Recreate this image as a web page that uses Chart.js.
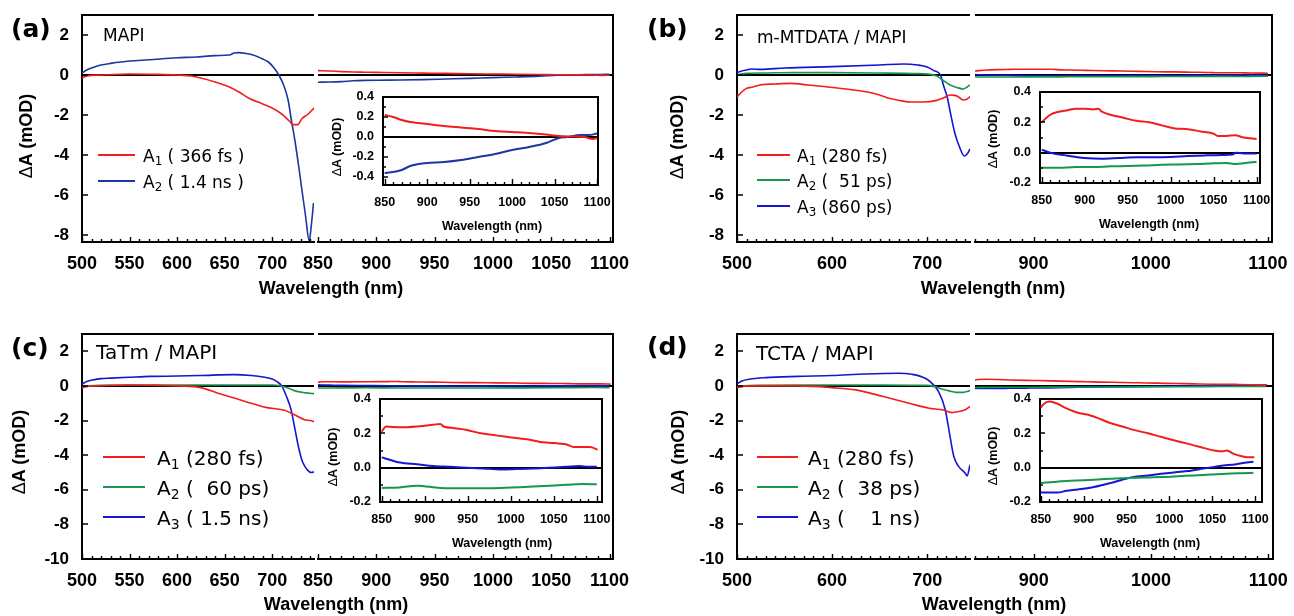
<!DOCTYPE html>
<html>
<head>
<meta charset="utf-8">
<script src="https://cdn.jsdelivr.net/npm/chart.js@4/dist/chart.umd.min.js"></script>
<style>
  body { margin: 0; width: 1294px; height: 616px; background: #fff; position: relative; overflow: hidden; }
  canvas { position: absolute; }
  .t { position: absolute; white-space: pre; color: #000; line-height: 1.2; }
  .tag { font: bold 25px "DejaVu Sans", sans-serif; }
  .name { font: 17px "DejaVu Sans", sans-serif; }
  .name.big { font-size: 20px; }
  .leg { font: 17px "DejaVu Sans", sans-serif; }
  .leg.big { font-size: 20px; }
  .leg sub { font-size: 70%; vertical-align: -0.28em; line-height: 0; }
  .ax { font: bold 18px "Liberation Sans", Arial, sans-serif; }
  .axs { font: bold 12.5px "Liberation Sans", Arial, sans-serif; }
  .ax i, .axs i { font-style: normal; font-weight: normal; }
  .ln { position: absolute; height: 2px; }
</style>
</head>
<body>
<script>
const RED = '#f21d1d', NAVY = '#1c379f', BLUE = '#1616d0', GREEN = '#179650';
const TICKFONT = '"Liberation Sans", Arial, sans-serif';

// ---- (a) MAPI ----
const aRedWl  = [500, 505, 520, 550, 580, 600, 615, 625, 640, 655, 665, 675, 690, 700, 710, 718, 722, 727, 731, 738, 744];
const aRedVal = [-0.15, -0.05, 0.0, 0.05, 0.03, 0.0, -0.05, -0.15, -0.35, -0.6, -0.85, -1.15, -1.45, -1.65, -1.95, -2.3, -2.48, -2.48, -2.2, -1.95, -1.65];
const aBlueWl  = [500, 505, 510, 520, 530, 550, 570, 600, 620, 640, 655, 660, 665, 672, 680, 690, 696, 702, 707, 712, 717, 720, 724, 728, 731, 735, 739, 741, 743.5];
const aBlueVal = [0.1, 0.25, 0.35, 0.5, 0.58, 0.7, 0.76, 0.86, 0.9, 0.97, 1.0, 1.1, 1.12, 1.08, 1.0, 0.8, 0.65, 0.35, 0.0, -0.5, -1.3, -2.2, -3.3, -4.6, -5.65, -7.0, -8.3, -7.6, -6.4];
const aRedNirWl  = [850, 860, 870, 880, 890, 900, 920, 940, 960, 980, 1000, 1020, 1040, 1055, 1070, 1085, 1095, 1100];
const aRedNirVal = [0.22, 0.2, 0.17, 0.15, 0.14, 0.13, 0.11, 0.095, 0.08, 0.06, 0.05, 0.04, 0.025, 0.01, 0.005, 0.0, -0.02, -0.01];
const aBlueNirWl  = [850, 860, 870, 880, 890, 900, 920, 940, 960, 980, 1000, 1020, 1040, 1055, 1065, 1080, 1090, 1100];
const aBlueNirVal = [-0.36, -0.35, -0.33, -0.29, -0.27, -0.26, -0.25, -0.23, -0.2, -0.17, -0.13, -0.1, -0.06, -0.01, 0.0, 0.02, 0.02, 0.035];
const aLegend = ['A<sub>1</sub> ( 366 fs )', 'A<sub>2</sub> ( 1.4 ns )'];

// ---- (b) m-MTDATA / MAPI ----
const bRedWl  = [500, 505, 510, 517, 524, 540, 556, 575, 594, 615, 637, 650, 661, 672, 682, 696, 710, 717, 724, 729, 733, 738, 742, 745];
const bRedVal = [-1.1, -0.85, -0.67, -0.6, -0.5, -0.45, -0.42, -0.5, -0.59, -0.7, -0.85, -1.0, -1.18, -1.28, -1.35, -1.35, -1.27, -1.15, -1.0, -1.02, -1.1, -1.25, -1.2, -1.08];
const bGreenWl  = [500, 510, 530, 560, 600, 650, 690, 700, 710, 716, 724, 731, 738, 742, 745];
const bGreenVal = [0.0, 0.08, 0.1, 0.12, 0.12, 0.1, 0.07, 0.05, -0.05, -0.25, -0.5, -0.62, -0.7, -0.6, -0.5];
const bBlueWl  = [500, 505, 510, 515, 525, 550, 600, 650, 675, 690, 700, 707, 714, 717, 721, 724, 729, 734, 739, 742, 745];
const bBlueVal = [0.12, 0.2, 0.25, 0.3, 0.28, 0.35, 0.42, 0.5, 0.55, 0.5, 0.4, 0.22, 0.0, -0.5, -1.1, -1.8, -2.9, -3.6, -4.05, -3.95, -3.7];
const bRedNirWl  = [850, 860, 870, 880, 890, 900, 910, 916, 920, 930, 945, 960, 975, 990, 1005, 1020, 1035, 1050, 1055, 1065, 1075, 1085, 1100];
const bRedNirVal = [0.2, 0.25, 0.27, 0.28, 0.29, 0.29, 0.285, 0.29, 0.27, 0.25, 0.23, 0.21, 0.2, 0.18, 0.16, 0.155, 0.14, 0.125, 0.11, 0.11, 0.115, 0.1, 0.09];
const bGreenNirWl  = [850, 870, 890, 910, 930, 950, 970, 990, 1010, 1030, 1050, 1065, 1076, 1085, 1100];
const bGreenNirVal = [-0.1, -0.1, -0.095, -0.095, -0.09, -0.088, -0.085, -0.08, -0.078, -0.075, -0.07, -0.068, -0.075, -0.07, -0.06];
const bBlueNirWl  = [850, 860, 880, 900, 920, 940, 960, 980, 1000, 1020, 1040, 1060, 1072, 1076, 1085, 1100];
const bBlueNirVal = [0.02, 0.0, -0.02, -0.035, -0.04, -0.035, -0.03, -0.03, -0.028, -0.022, -0.018, -0.015, -0.012, 0.0, -0.005, -0.005];
const bLegend = ['A<sub>1</sub> (280 fs)', 'A<sub>2</sub> (  51 ps)', 'A<sub>3</sub> (860 ps)'];

// ---- (c) TaTm / MAPI ----
const cRedWl  = [500, 510, 530, 550, 580, 600, 625, 643, 660, 678, 696, 705, 713, 719, 724, 734, 740, 745];
const cRedVal = [-0.1, 0.0, 0.03, 0.05, 0.03, 0.0, -0.1, -0.42, -0.7, -1.0, -1.27, -1.33, -1.4, -1.55, -1.68, -1.95, -2.0, -2.08];
const cGreenWl  = [500, 520, 550, 600, 650, 700, 710, 718, 725, 735, 745];
const cGreenVal = [0.0, 0.03, 0.05, 0.05, 0.05, 0.05, -0.02, -0.15, -0.3, -0.4, -0.45];
const cBlueWl  = [500, 505, 512, 520, 530, 550, 572, 600, 625, 660, 678, 692, 700, 705, 710, 715, 720, 724, 728, 732, 737, 741, 745];
const cBlueVal = [0.1, 0.25, 0.35, 0.42, 0.45, 0.5, 0.55, 0.57, 0.6, 0.65, 0.6, 0.5, 0.4, 0.25, 0.0, -0.6, -1.4, -2.5, -3.6, -4.4, -4.85, -5.0, -4.95];
const cRedNirWl  = [850, 855, 871, 891, 910, 918, 922, 935, 949, 965, 980, 995, 1019, 1034, 1045, 1057, 1065, 1073, 1092, 1101];
const cRedNirVal = [0.21, 0.24, 0.235, 0.24, 0.25, 0.255, 0.24, 0.23, 0.22, 0.2, 0.19, 0.18, 0.165, 0.15, 0.145, 0.14, 0.135, 0.12, 0.12, 0.105];
const cGreenNirWl  = [850, 871, 891, 918, 949, 987, 1026, 1064, 1083, 1100];
const cGreenNirVal = [-0.118, -0.115, -0.105, -0.118, -0.12, -0.118, -0.11, -0.1, -0.095, -0.097];
const cBlueNirWl  = [850, 860, 871, 891, 910, 930, 949, 968, 987, 1006, 1026, 1045, 1064, 1080, 1090, 1100];
const cBlueNirVal = [0.06, 0.045, 0.03, 0.02, 0.01, 0.005, 0.0, -0.005, -0.01, -0.008, -0.005, 0.0, 0.005, 0.01, 0.005, 0.005];
const cLegend = ['A<sub>1</sub> (280 fs)', 'A<sub>2</sub> (  60 ps)', 'A<sub>3</sub> ( 1.5 ns)'];

// ---- (d) TCTA / MAPI ----
const dRedWl  = [500, 512, 540, 564, 600, 625, 653, 681, 702, 716, 726, 733, 740, 745];
const dRedVal = [-0.1, 0.0, 0.0, 0.0, -0.1, -0.23, -0.6, -1.0, -1.29, -1.38, -1.54, -1.48, -1.38, -1.19];
const dGreenWl  = [500, 520, 560, 600, 650, 700, 708, 716, 724, 730, 738, 745];
const dGreenVal = [0.0, 0.03, 0.05, 0.05, 0.05, 0.03, -0.05, -0.19, -0.3, -0.37, -0.37, -0.27];
const dBlueWl  = [500, 505, 513, 530, 564, 600, 635, 670, 684, 698, 705, 712, 719, 724, 728, 733, 740, 742, 745];
const dBlueVal = [0.12, 0.28, 0.39, 0.48, 0.55, 0.6, 0.69, 0.73, 0.67, 0.44, 0.15, -0.33, -1.38, -2.92, -4.08, -4.65, -5.04, -5.2, -4.56];
const dRedNirWl  = [850, 853, 860, 868, 880, 893, 904, 916, 931, 945, 958, 975, 990, 1005, 1021, 1036, 1052, 1063, 1067, 1075, 1086, 1092, 1099];
const dRedNirVal = [0.35, 0.37, 0.385, 0.375, 0.345, 0.32, 0.31, 0.29, 0.26, 0.24, 0.22, 0.2, 0.18, 0.16, 0.14, 0.12, 0.1, 0.095, 0.1, 0.08, 0.065, 0.06, 0.06];
const dGreenNirWl  = [850, 871, 891, 912, 931, 950, 970, 990, 1010, 1028, 1048, 1067, 1085, 1098];
const dGreenNirVal = [-0.09, -0.08, -0.075, -0.07, -0.065, -0.06, -0.058, -0.055, -0.05, -0.045, -0.04, -0.035, -0.032, -0.03];
const dBlueNirWl  = [850, 869, 880, 893, 912, 931, 945, 958, 975, 990, 1005, 1021, 1040, 1059, 1078, 1090, 1098];
const dBlueNirVal = [-0.145, -0.145, -0.135, -0.127, -0.113, -0.09, -0.07, -0.055, -0.045, -0.035, -0.028, -0.02, -0.005, 0.01, 0.02, 0.03, 0.035];
const dLegend = ['A<sub>1</sub> (280 fs)', 'A<sub>2</sub> (  38 ps)', 'A<sub>3</sub> (    1 ns)'];

// frame lines (top/right) and inward tick marks
function eachTick(s, t, fn) {
  if (!t) return;
  const [minor, major, lMin, lMaj] = t;
  for (let k = Math.ceil(s.min / minor - 1e-9); k * minor <= s.max + 1e-9; k++) {
    const v = k * minor;
    const isMaj = Math.abs(v / major - Math.round(v / major)) < 1e-6;
    if (!isMaj && !lMin) continue;
    fn(Math.round(s.getPixelForValue(v)) + 0.5, isMaj ? lMaj : lMin);
  }
}
const framePlugin = {
  id: 'frame',
  afterDraw(chart, args, opts) {
    const ca = chart.chartArea, ctx = chart.ctx;
    ctx.save();
    ctx.strokeStyle = '#000';
    ctx.lineWidth = opts.lw;
    ctx.beginPath();
    if (opts.top) { ctx.moveTo(ca.left - (opts.yaxis ? 1 : 0), ca.top); ctx.lineTo(ca.right + (opts.right ? 1 : 0), ca.top); }
    if (opts.right) { ctx.moveTo(ca.right, ca.top); ctx.lineTo(ca.right, ca.bottom + 1); }
    ctx.stroke();
    ctx.lineWidth = 1.4;
    ctx.beginPath();
    eachTick(chart.scales.x, opts.xt, (p, L) => { ctx.moveTo(p, ca.bottom); ctx.lineTo(p, ca.bottom - L); });
    if (opts.yaxis) eachTick(chart.scales.y, opts.yt, (p, L) => { ctx.moveTo(ca.left, p - 0.5); ctx.lineTo(ca.left + L, p - 0.5); });
    ctx.stroke();
    ctx.restore();
  }
};

function series(wl, val, color) { return { wl, val, color }; }

// fixes the box of a scale so the chart area lands exactly where wanted
function fixBox(s, prop, size) {
  s[prop] = size;
  s.paddingTop = s.paddingBottom = s.paddingLeft = s.paddingRight = 0;
}

function plot(o) {
  const W = o.w + o.padL + o.padR, H = o.h + o.padT + o.padB;
  const c = document.createElement('canvas');
  c.width = W; c.height = H;
  c.style.left = (o.left - o.padL) + 'px';
  c.style.top = (o.top - o.padT) + 'px';
  c.style.width = W + 'px'; c.style.height = H + 'px';
  document.body.appendChild(c);
  new Chart(c, {
    type: 'line',
    data: {
      datasets: o.series.map(s => ({
        data: s.wl.map((x, i) => ({ x: x, y: s.val[i] })),
        borderColor: s.color,
        borderWidth: o.lw,
        pointRadius: 0,
        cubicInterpolationMode: 'monotone',
        fill: false
      }))
    },
    options: {
      responsive: false,
      animation: false,
      devicePixelRatio: 1,
      events: [],
      layout: { padding: { left: 0, top: o.padT, right: o.padR, bottom: 0 }, autoPadding: false },
      plugins: {
        legend: { display: false },
        tooltip: { enabled: false },
        frame: { lw: o.bw, top: true, right: o.right, yaxis: o.yaxis, xt: o.xt, yt: o.yt }
      },
      scales: {
        x: {
          type: 'linear', min: o.x[0], max: o.x[1],
          afterFit: s => fixBox(s, 'height', o.padB),
          border: { display: true, color: '#000', width: o.bw },
          grid: { display: false, drawTicks: false },
          ticks: {
            stepSize: o.x[2], includeBounds: false, autoSkip: false, maxRotation: 0,
            padding: o.xpad, color: '#000',
            font: { family: TICKFONT, weight: 'bold', size: o.xfs },
            callback: v => String(v)
          }
        },
        y: {
          type: 'linear', min: o.y[0], max: o.y[1],
          afterFit: s => fixBox(s, 'width', o.padL),
          border: { display: o.yaxis, color: '#000', width: o.bw },
          grid: {
            drawTicks: false, lineWidth: 2,
            color: g => (g.tick && Math.abs(g.tick.value) < 1e-9) ? '#000' : 'rgba(0,0,0,0)'
          },
          ticks: {
            display: o.yaxis, stepSize: o.y[2], includeBounds: false,
            padding: o.ypad, color: '#000',
            font: { family: TICKFONT, weight: 'bold', size: o.yfs },
            callback: v => o.fmt(v)
          }
        }
      }
    },
    plugins: [framePlugin]
  });
}

function txt(html, x, y, cls, center) {
  const d = document.createElement('div');
  d.className = 't ' + cls;
  d.innerHTML = html;
  d.style.left = x + 'px';
  d.style.top = y + 'px';
  d.style.transform = center ? 'translate(-50%,-50%)' : 'translate(0,-50%)';
  document.body.appendChild(d);
}
function vtxt(html, x, y, cls) {
  const d = document.createElement('div');
  d.className = 't ' + cls;
  d.innerHTML = html;
  d.style.left = x + 'px';
  d.style.top = y + 'px';
  d.style.transform = 'translate(-50%,-50%) rotate(-90deg)';
  document.body.appendChild(d);
}
function legendRow(x1, x2, y, color, html, tx, cls) {
  const l = document.createElement('div');
  l.className = 'ln';
  l.style.left = x1 + 'px'; l.style.width = (x2 - x1) + 'px';
  l.style.top = (y - 1) + 'px'; l.style.background = color;
  document.body.appendChild(l);
  txt(html, tx, y + 1, cls, false);
}

const intFmt = v => String(v);
const decFmt = v => v.toFixed(1);
const XLABEL = 'Wavelength (nm)';
const YLABEL = '<i>\u0394</i>A (mOD)';

// one panel = visible part + near-IR part + inset
function panel(p) {
  const common = { top: p.top, h: p.h, y: p.y, lw: 1.6, bw: 2, xfs: 18, yfs: 17, xpad: 11, ypad: 13, fmt: intFmt, padT: 12, padB: 36 };
  plot(Object.assign({}, common, {
    left: p.lx[0], w: p.lx[1] - p.lx[0], padL: 60, padR: 4,
    x: p.vis, xt: [10, p.vis[2], 3, 5], yt: [p.y[2], p.y[2], 0, 6],
    right: false, yaxis: true, series: p.visSeries
  }));
  plot(Object.assign({}, common, {
    left: p.rx[0], w: p.rx[1] - p.rx[0], padL: 25, padR: 25,
    x: p.nir, xt: [10, p.nir[2], 3, 5],
    right: true, yaxis: false, series: p.nirSeries
  }));
  plot({
    left: p.ix[0], w: p.ix[1] - p.ix[0], top: p.iy[0], h: p.iy[1] - p.iy[0],
    padL: 45, padR: 15, padT: 10, padB: 30,
    x: p.ixr, y: p.iyr, lw: 2, bw: 2, xfs: 12.5, yfs: 12.5, xpad: 10, ypad: 9, fmt: decFmt,
    xt: [10, 50, 3, 6], yt: [0.1, 0.2, 3, 5],
    right: true, yaxis: true, series: p.nirSeries
  });
}

// (a)
panel({
  top: 15, h: 227, y: [-8.35, 3, 2],
  lx: [82, 314], vis: [500, 744, 50],
  rx: [318, 613], nir: [850, 1103, 50],
  ix: [383, 598], iy: [97, 185], ixr: [848, 1101, 50], iyr: [-0.48, 0.4, 0.2],
  visSeries: [series(aRedWl, aRedVal, RED), series(aBlueWl, aBlueVal, NAVY)],
  nirSeries: [series(aRedNirWl, aRedNirVal, RED), series(aBlueNirWl, aBlueNirVal, NAVY)]
});
// (b)
panel({
  top: 15, h: 227, y: [-8.35, 3, 2],
  lx: [737, 970], vis: [500, 745, 100],
  rx: [975, 1272], nir: [850, 1103.5, 100],
  ix: [1040, 1260], iy: [92, 183], ixr: [848, 1104, 50], iyr: [-0.2, 0.4, 0.2],
  visSeries: [series(bRedWl, bRedVal, RED), series(bGreenWl, bGreenVal, GREEN), series(bBlueWl, bBlueVal, BLUE)],
  nirSeries: [series(bRedNirWl, bRedNirVal, RED), series(bGreenNirWl, bGreenNirVal, GREEN), series(bBlueNirWl, bBlueNirVal, BLUE)]
});
// (c)
panel({
  top: 334, h: 225, y: [-10, 3, 2],
  lx: [82, 314], vis: [500, 744, 50],
  rx: [318, 613], nir: [850, 1103, 50],
  ix: [380, 602], iy: [399, 502], ixr: [848, 1106, 50], iyr: [-0.2, 0.4, 0.2],
  visSeries: [series(cRedWl, cRedVal, RED), series(cGreenWl, cGreenVal, GREEN), series(cBlueWl, cBlueVal, BLUE)],
  nirSeries: [series(cRedNirWl, cRedNirVal, RED), series(cGreenNirWl, cGreenNirVal, GREEN), series(cBlueNirWl, cBlueNirVal, BLUE)]
});
// (d)
panel({
  top: 334, h: 225, y: [-10, 3, 2],
  lx: [737, 970], vis: [500, 745, 100],
  rx: [975, 1273], nir: [850, 1104, 100],
  ix: [1040, 1262], iy: [399, 502], ixr: [849, 1108, 50], iyr: [-0.2, 0.4, 0.2],
  visSeries: [series(dRedWl, dRedVal, RED), series(dGreenWl, dGreenVal, GREEN), series(dBlueWl, dBlueVal, BLUE)],
  nirSeries: [series(dRedNirWl, dRedNirVal, RED), series(dGreenNirWl, dGreenNirVal, GREEN), series(dBlueNirWl, dBlueNirVal, BLUE)]
});

// panel tags and sample names
txt('(a)', 11, 28, 'tag'); txt('(b)', 647, 28, 'tag');
txt('(c)', 11, 347, 'tag'); txt('(d)', 647, 346, 'tag');
txt('MAPI', 103, 35, 'name');
txt('m-MTDATA / MAPI', 757, 37, 'name');
txt('TaTm / MAPI', 96, 352, 'name big');
txt('TCTA / MAPI', 756, 353, 'name big');

// axis titles
txt(XLABEL, 331, 288, 'ax', true); txt(XLABEL, 993, 288, 'ax', true);
txt(XLABEL, 336, 604, 'ax', true); txt(XLABEL, 994, 604, 'ax', true);
vtxt(YLABEL, 26, 136, 'ax'); vtxt(YLABEL, 677, 137, 'ax');
vtxt(YLABEL, 19, 452, 'ax'); vtxt(YLABEL, 678, 452, 'ax');
txt(XLABEL, 492, 226, 'axs', true); txt(XLABEL, 1149, 224, 'axs', true);
txt(XLABEL, 502, 543, 'axs', true); txt(XLABEL, 1150, 543, 'axs', true);
vtxt(YLABEL, 337, 147, 'axs'); vtxt(YLABEL, 993, 139, 'axs');
vtxt(YLABEL, 333, 457, 'axs'); vtxt(YLABEL, 993, 456, 'axs');

// legends
legendRow(98, 135, 155, RED, aLegend[0], 143, 'leg');
legendRow(98, 135, 181, NAVY, aLegend[1], 143, 'leg');
legendRow(757, 790, 155, RED, bLegend[0], 797, 'leg');
legendRow(757, 790, 180, GREEN, bLegend[1], 797, 'leg');
legendRow(757, 790, 206, BLUE, bLegend[2], 797, 'leg');
legendRow(103, 145, 457, RED, cLegend[0], 157, 'leg big');
legendRow(103, 145, 487, GREEN, cLegend[1], 157, 'leg big');
legendRow(103, 145, 517, BLUE, cLegend[2], 157, 'leg big');
legendRow(757, 798, 457, RED, dLegend[0], 808, 'leg big');
legendRow(757, 798, 487, GREEN, dLegend[1], 808, 'leg big');
legendRow(757, 798, 517, BLUE, dLegend[2], 808, 'leg big');
</script>
</body>
</html>
